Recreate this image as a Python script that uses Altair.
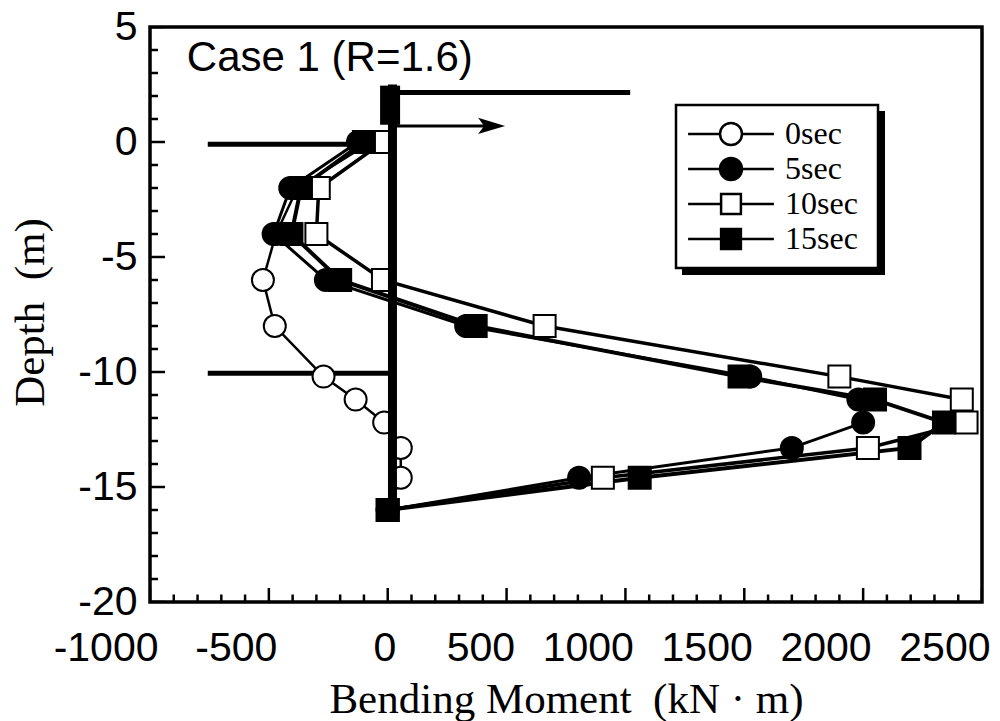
import altair as alt
import pandas as pd

# ---------------- data ----------------
series_names = ["0sec", "5sec", "10sec", "15sec"]
depth = [0, -2, -4, -6, -8, -10.2, -11.2, -12.2, -13.3, -14.6, -16]
moment_0sec = [-70, -380, -470, -525, -475, -270, -135, -15, 55, 55, 0]
moment_5sec = [-125, -410, -480, -260, 330, 1525, 1980, 2000, 1700, 805, 0]
moment_10sec = [-20, -290, -300, -20, 660, 1900, 2415, 2435, 2020, 905, 0]
moment_15sec = [-100, -365, -405, -200, 370, 1480, 2050, 2340, 2195, 1060, 0]

x_domain = [-1000, 2500]
y_domain = [-20, 5]
x_major = list(range(-1000, 2501, 500))
y_major = list(range(-20, 6, 5))
x_minor = [v for v in range(-1000, 2501, 100) if v % 500 != 0]
y_minor = [v for v in range(-20, 6) if v % 5 != 0]

# pile / ground sketch (data units)
pile_x = [20]
pile_depth = [2.5, -16]
head_x = [10]
head_depth = [2.45, 0.75]
beam_depth = [2.15]
beam_x = [20, 1020]
arrow_depth = [0.7]
arrow_x = [20, 440]
arrow_head_x = [437]
ground_depth = [-0.1, -10.05]
ground_x = [-757, 20]

case_text = ["Case 1 (R=1.6)"]
case_x = [-845]
case_y = [3.09]

# ---------------- tables ----------------
moments = {"0sec": moment_0sec, "5sec": moment_5sec,
           "10sec": moment_10sec, "15sec": moment_15sec}
rows = []
for s in series_names:
    for i, (d, m) in enumerate(zip(depth, moments[s])):
        rows.append({"series": s, "depth": d, "moment": m, "idx": i})
df = pd.DataFrame(rows)

xs = alt.Scale(domain=x_domain, nice=False, zero=False)
ys = alt.Scale(domain=y_domain, nice=False, zero=False)

x_axis = alt.Axis(
    values=x_major, title="Bending Moment\u00a0\u00a0(kN\u00a0·\u00a0m)",
    labelExpr="'' + datum.value",
    grid=False, domain=False, ticks=False, tickSize=0,
    labelFont="Liberation Sans", labelFontSize=41, labelColor="black",
    labelPadding=58, labelBaseline="alphabetic", labelFlush=False,
    labelOverlap=False, labelAlign="right", labelOffset=8,
    titleFont="Liberation Serif", titleFontSize=43, titleFontWeight="normal",
    titleColor="black", titleBaseline="alphabetic", titleY=110,
)
y_axis = alt.Axis(
    values=y_major, title="Depth\u00a0\u00a0(m)",
    labelExpr="'' + datum.value",
    grid=False, domain=False, ticks=False, tickSize=0,
    labelFont="Liberation Sans", labelFontSize=41, labelColor="black",
    labelPadding=13, labelFlush=False, labelOverlap=False,
    titleFont="Liberation Serif", titleFontSize=43, titleFontWeight="normal",
    titleColor="#000000", titleBaseline="alphabetic", titleAngle=270,
    titleX=-107, titleY=285,
)


def X(field):
    return alt.X(field, type="quantitative", scale=xs, axis=x_axis)


def Y(field):
    return alt.Y(field, type="quantitative", scale=ys, axis=y_axis)


# ground lines
ground_df = pd.DataFrame({"y": ground_depth, "x": ground_x[0], "x2": ground_x[1]})
ground = alt.Chart(ground_df).mark_rule(color="black", strokeWidth=5).encode(
    x=X("x"), x2="x2", y=Y("y"))

# series lines
lines = alt.Chart(df).mark_line(color="black").encode(
    x=X("moment"), y=Y("depth"),
    detail="series:N", order="idx:Q",
    strokeWidth=alt.StrokeWidth("series:N", scale=alt.Scale(domain=series_names, range=[2.5, 4, 2.5, 4]), legend=None),
)

points = alt.Chart(df).mark_point(filled=True, stroke="black", strokeWidth=2, opacity=1).encode(
    x=X("moment"), y=Y("depth"),
    shape=alt.Shape("series:N", scale=alt.Scale(domain=series_names, range=["circle", "circle", "square", "square"]), legend=None),
    fill=alt.Fill("series:N", scale=alt.Scale(domain=series_names, range=["white", "black", "white", "black"]), legend=None),
    size=alt.Size("series:N", scale=alt.Scale(domain=series_names, range=[484, 484, 400, 400]), legend=None),
)

pile_df = pd.DataFrame({"x": pile_x, "y": [pile_depth[0]], "y2": [pile_depth[1]]})
pile = alt.Chart(pile_df).mark_rule(color="black", strokeWidth=9).encode(
    x=X("x"), y=Y("y"), y2="y2")
head_df = pd.DataFrame({"x": head_x, "y": [head_depth[0]], "y2": [head_depth[1]]})
head = alt.Chart(head_df).mark_rule(color="black", strokeWidth=20).encode(
    x=X("x"), y=Y("y"), y2="y2")
beam_df = pd.DataFrame({"y": beam_depth, "x": [beam_x[0]], "x2": [beam_x[1]]})
beam = alt.Chart(beam_df).mark_rule(color="black", strokeWidth=5).encode(
    x=X("x"), x2="x2", y=Y("y"))
arrow_df = pd.DataFrame({"y": arrow_depth, "x": [arrow_x[0]], "x2": [arrow_x[1]]})
arrow = alt.Chart(arrow_df).mark_rule(color="black", strokeWidth=3).encode(
    x=X("x"), x2="x2", y=Y("y"))
ahead_df = pd.DataFrame({"x": arrow_head_x, "y": arrow_depth})
ahead = alt.Chart(ahead_df).mark_point(
    shape="M-1,-0.6L1,0L-1,0.6L-0.55,0Z", size=729, filled=True, color="black", opacity=1
).encode(x=X("x"), y=Y("y"))

# inward ticks (clipped at the frame)
xt_major = alt.Chart(pd.DataFrame({"v": x_major, "base": y_domain[0]})).mark_tick(
    orient="vertical", size=28, thickness=2.5, color="black", clip=True, opacity=1
).encode(x=X("v"), y=Y("base"))
xt_minor = alt.Chart(pd.DataFrame({"v": x_minor, "base": y_domain[0]})).mark_tick(
    orient="vertical", size=15, thickness=2.5, color="black", clip=True, opacity=1
).encode(x=X("v"), y=Y("base"))
yt_major = alt.Chart(pd.DataFrame({"v": y_major, "base": x_domain[0]})).mark_tick(
    orient="horizontal", size=30, thickness=2.5, color="black", clip=True, opacity=1
).encode(y=Y("v"), x=X("base"))
yt_minor = alt.Chart(pd.DataFrame({"v": y_minor, "base": x_domain[0]})).mark_tick(
    orient="horizontal", size=16, thickness=2.5, color="black", clip=True, opacity=1
).encode(y=Y("v"), x=X("base"))

case_df = pd.DataFrame({"t": case_text, "x": case_x, "y": case_y})
case = alt.Chart(case_df).mark_text(
    align="left", baseline="alphabetic", font="Liberation Sans", fontSize=42, color="black"
).encode(x=X("x"), y=Y("y"), text="t:N")

# legend frame with drop shadow
one = alt.Data(values=[{"a": 1}])
shadow = alt.Chart(one).mark_rect(color="black").encode(
    x=alt.value(532), x2=alt.value(735), y=alt.value(84), y2=alt.value(248))
box = alt.Chart(one).mark_rect(fill="white", stroke="black", strokeWidth=2.5).encode(
    x=alt.value(526), x2=alt.value(728), y=alt.value(78), y2=alt.value(241))

legend_paths = [
    "M-3.9,0H-1M1,0H3.9M-1,0A1,1,0,1,1,1,0A1,1,0,1,1,-1,0Z",
    "M-3.9,0H-1M1,0H3.9M-1,0A1,1,0,1,1,1,0A1,1,0,1,1,-1,0Z",
    "M-3.9,0H-0.9M0.9,0H3.9M-0.9,-0.9H0.9V0.9H-0.9Z",
    "M-3.9,0H-0.9M0.9,0H3.9M-0.9,-0.9H0.9V0.9H-0.9Z",
]
leg = alt.Legend(
    title=None, orient="none", legendX=520, legendY=91, padding=0,
    symbolOffset=45, labelOffset=38, rowPadding=3, symbolSize=484,
    symbolStrokeWidth=2.5, symbolOpacity=1,
    labelFont="Liberation Serif", labelFontSize=32, labelColor="black", labelLimit=0,
)
legend_layer = alt.Chart(df).mark_point(filled=True, opacity=0).encode(
    x=X("moment"), y=Y("depth"),
    shape=alt.Shape("series:N", scale=alt.Scale(domain=series_names, range=legend_paths), legend=leg),
    fill=alt.Fill("series:N", scale=alt.Scale(domain=series_names, range=["white", "black", "white", "black"]), legend=leg),
    stroke=alt.Stroke("series:N", scale=alt.Scale(domain=series_names, range=["black", "black", "black", "black"]), legend=leg),
)

chart = alt.layer(
    ground, lines, points, pile, head, beam, arrow, ahead,
    xt_major, xt_minor, yt_major, yt_minor, case, shadow, box, legend_layer
).resolve_scale(
    shape="independent", fill="independent", size="independent", stroke="independent"
).properties(
    width=832, height=575,
    autosize=alt.AutoSizeParams(type="none"),
    padding={"left": 150, "top": 27, "right": 18, "bottom": 119},
    background="white",
).configure_view(stroke="black", strokeWidth=3.5)

chart.save("out.html", embed_options={"renderer": "svg", "actions": False})
